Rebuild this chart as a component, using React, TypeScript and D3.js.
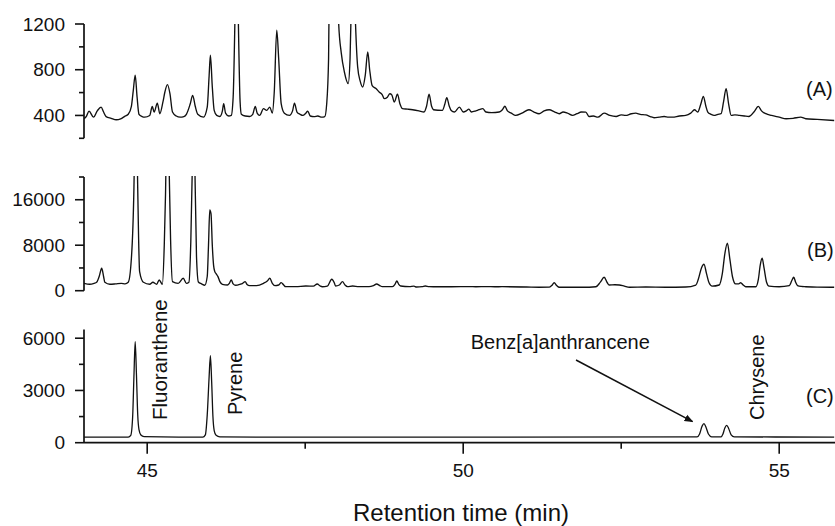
import React from "react";
import * as d3 from "d3";

// ---------- data (retention time in min, detector signal) ----------
const traceA: [number, number][] = [
  [44.0, 371], [44.04, 395], [44.08, 438], [44.15, 385], [44.21, 440], [44.27, 473], [44.31, 430], [44.35, 390],
  [44.43, 375], [44.51, 362], [44.58, 370], [44.64, 390], [44.7, 410], [44.75, 480], [44.78, 620], [44.81, 752],
  [44.84, 560], [44.87, 410], [44.92, 390], [44.96, 385], [45.04, 400], [45.08, 479], [45.11, 429], [45.16, 508],
  [45.2, 415], [45.25, 520], [45.28, 605], [45.32, 670], [45.36, 591], [45.4, 430], [45.46, 395], [45.52, 385],
  [45.58, 390], [45.62, 410], [45.68, 500], [45.72, 576], [45.76, 480], [45.8, 410], [45.89, 385], [45.95, 473],
  [45.98, 750], [46.0, 927], [46.03, 650], [46.06, 444], [46.1, 400], [46.15, 391], [46.19, 440], [46.21, 503],
  [46.24, 420], [46.29, 395], [46.33, 400], [46.36, 560], [46.39, 1300], [46.415, 2200], [46.44, 1300], [46.47, 520],
  [46.49, 410], [46.55, 395], [46.62, 391], [46.67, 410], [46.71, 479], [46.74, 420], [46.78, 400], [46.84, 459],
  [46.89, 444], [46.94, 473], [46.98, 420], [47.01, 600], [47.05, 1147], [47.08, 900], [47.12, 503], [47.17, 420],
  [47.25, 400], [47.3, 440], [47.33, 508], [47.37, 430], [47.42, 410], [47.46, 400], [47.51, 420], [47.54, 438],
  [47.58, 395], [47.64, 390], [47.7, 395], [47.76, 385], [47.81, 390], [47.84, 500], [47.87, 900], [47.9, 2500],
  [47.96, 2800], [48.0, 1700], [48.03, 1200], [48.07, 950], [48.12, 780], [48.18, 679], [48.21, 900], [48.23, 1400],
  [48.26, 1900], [48.29, 1300], [48.33, 825], [48.37, 700], [48.41, 649], [48.45, 750], [48.49, 956], [48.52, 800],
  [48.56, 660], [48.62, 635], [48.67, 605], [48.72, 580], [48.75, 547], [48.8, 560], [48.84, 590], [48.87, 580],
  [48.91, 517], [48.96, 585], [49.0, 500], [49.04, 459], [49.12, 455], [49.2, 450], [49.3, 440], [49.38, 430],
  [49.42, 480], [49.46, 585], [49.5, 480], [49.53, 450], [49.6, 445], [49.67, 444], [49.71, 500], [49.74, 556],
  [49.78, 480], [49.81, 444], [49.86, 430], [49.94, 473], [50.0, 430], [50.05, 440], [50.09, 455], [50.13, 430],
  [50.2, 440], [50.25, 450], [50.31, 459], [50.36, 430], [50.45, 425], [50.57, 430], [50.62, 450], [50.66, 480],
  [50.7, 440], [50.76, 420], [50.83, 400], [50.93, 420], [51.04, 450], [51.12, 430], [51.2, 415], [51.28, 440],
  [51.36, 450], [51.45, 430], [51.52, 415], [51.58, 430], [51.65, 420], [51.73, 400], [51.8, 415], [51.87, 430],
  [51.94, 429], [51.99, 391], [52.06, 395], [52.13, 385], [52.23, 420], [52.32, 400], [52.42, 391], [52.5, 405],
  [52.57, 400], [52.66, 415], [52.73, 420], [52.8, 410], [52.89, 405], [52.96, 390], [53.02, 380], [53.1, 385],
  [53.18, 391], [53.25, 385], [53.31, 385], [53.42, 395], [53.52, 400], [53.6, 420], [53.66, 450], [53.71, 430],
  [53.76, 500], [53.8, 567], [53.84, 480], [53.87, 429], [53.92, 410], [53.97, 400], [54.03, 410], [54.08, 415],
  [54.12, 520], [54.16, 635], [54.2, 500], [54.24, 400], [54.3, 405], [54.37, 400], [54.45, 395], [54.52, 391],
  [54.6, 430], [54.67, 479], [54.72, 440], [54.79, 415], [54.88, 400], [55.0, 385], [55.11, 371], [55.22, 375],
  [55.34, 385], [55.42, 371], [55.6, 365], [55.87, 356],
];

const traceB: [number, number][] = [
  [44.0, 1300], [44.09, 1130], [44.16, 1300], [44.2, 1480], [44.24, 2500], [44.28, 3950], [44.31, 2500], [44.33, 1480],
  [44.41, 1130], [44.5, 1200], [44.59, 1300], [44.65, 1200], [44.7, 1480], [44.75, 5700], [44.79, 18000], [44.82, 40000],
  [44.85, 18000], [44.88, 3350], [44.94, 1480], [45.04, 1130], [45.09, 1480], [45.15, 1130], [45.19, 1890], [45.24, 1130],
  [45.27, 8000], [45.29, 17000], [45.32, 40000], [45.35, 20000], [45.37, 9000], [45.4, 1600], [45.49, 1300], [45.57, 2190],
  [45.62, 1300], [45.66, 1500], [45.69, 8600], [45.72, 25000], [45.735, 35000], [45.75, 25000], [45.78, 6000], [45.81, 1530],
  [45.86, 1200], [45.91, 950], [45.95, 2500], [45.97, 8000], [45.99, 14200], [46.01, 13500], [46.03, 8000], [46.05, 4500],
  [46.07, 3350], [46.09, 3000], [46.12, 2470], [46.15, 1600], [46.19, 1130], [46.27, 1000], [46.3, 1300], [46.33, 1890],
  [46.36, 1200], [46.4, 950], [46.47, 1130], [46.51, 1300], [46.55, 1590], [46.58, 1100], [46.62, 900], [46.73, 900],
  [46.84, 1300], [46.9, 1700], [46.94, 2190], [46.98, 1300], [47.02, 900], [47.08, 1000], [47.12, 1410], [47.16, 1000],
  [47.19, 705], [47.35, 705], [47.51, 830], [47.63, 800], [47.69, 1180], [47.74, 800], [47.77, 700], [47.85, 800],
  [47.92, 2010], [47.96, 1400], [47.98, 830], [48.04, 1000], [48.09, 1590], [48.13, 1000], [48.17, 705], [48.25, 830],
  [48.35, 705], [48.51, 705], [48.58, 900], [48.63, 1180], [48.68, 900], [48.72, 705], [48.88, 705], [48.92, 1100],
  [48.95, 1710], [48.98, 1100], [49.01, 830], [49.15, 705], [49.22, 800], [49.26, 650], [49.35, 705], [49.4, 830],
  [49.46, 705], [49.6, 700], [49.75, 700], [49.96, 705], [50.1, 720], [50.2, 700], [50.37, 720], [50.5, 700],
  [50.62, 705], [51.0, 650], [51.2, 600], [51.36, 620], [51.4, 900], [51.44, 1400], [51.48, 900], [51.52, 600],
  [51.89, 600], [52.1, 700], [52.17, 1500], [52.23, 2360], [52.28, 1400], [52.31, 1000], [52.4, 1050], [52.47, 1005],
  [52.55, 800], [52.63, 600], [52.89, 650], [53.2, 600], [53.52, 650], [53.68, 1000], [53.72, 2000], [53.77, 4000],
  [53.81, 4660], [53.85, 3000], [53.89, 1400], [53.94, 800], [54.05, 1005], [54.1, 3000], [54.14, 6500], [54.18, 8360],
  [54.22, 5500], [54.26, 2500], [54.31, 1200], [54.36, 1200], [54.39, 1400], [54.43, 1000], [54.47, 700], [54.63, 700],
  [54.67, 2000], [54.7, 4500], [54.73, 5700], [54.76, 4000], [54.8, 1500], [54.84, 800], [55.0, 700], [55.16, 900],
  [55.2, 1800], [55.23, 2360], [55.26, 1500], [55.29, 900], [55.35, 750], [55.42, 700], [55.6, 620], [55.87, 600],
];

const traceC: [number, number][] = [
  [44.0, 320], [44.7, 320], [44.74, 420], [44.77, 1500], [44.79, 3800], [44.81, 5800], [44.83, 3900], [44.85, 1600],
  [44.87, 750], [44.9, 440], [44.95, 345], [45.5, 320], [45.88, 320], [45.92, 450], [45.95, 1600], [45.98, 3800],
  [46.0, 5000], [46.02, 3500], [46.04, 1500], [46.06, 700], [46.09, 430], [46.15, 340], [47.0, 320], [53.7, 330],
  [53.74, 500], [53.78, 950], [53.81, 1090], [53.84, 900], [53.88, 500], [53.93, 340], [54.08, 335], [54.11, 500],
  [54.14, 850], [54.17, 990], [54.2, 820], [54.24, 450], [54.29, 335], [55.87, 320],
];

const xMajorTicks = [45, 50, 55];
const xMinorTicks = [47.5, 52.5];
const aMajorTicks = [400, 800, 1200];
const aMinorTicks = [200, 600, 1000];
const bMajorTicks = [0, 8000, 16000];
const bMinorTicks = [4000, 12000, 20000];
const cMajorTicks = [0, 3000, 6000];
const cMinorTicks = [1500, 4500];
const panelLabels = ["(A)", "(B)", "(C)"];
const compoundLabels = ["Fluoranthene", "Pyrene", "Benz[a]anthrancene", "Chrysene"];
const axisTitle = "Retention time (min)";

// ---------- layout ----------
const W = 835;
const H = 526;
const FONT = "'Liberation Sans', Arial, Helvetica, sans-serif";
const INK = "#111";

const x = d3.scaleLinear().domain([44, 56]).range([84, 842.4]);
const yA = d3.scaleLinear().domain([200, 1200]).range([138.3, 24]);
const yB = d3.scaleLinear().domain([0, 20000]).range([290.7, 177]);
const yC = d3.scaleLinear().domain([0, 6500]).range([442.7, 329.5]);

function YAxis({ y, major, minor }: { y: d3.ScaleLinear<number, number>; major: number[]; minor: number[] }) {
  const [d0, d1] = y.domain();
  const x0 = x(44);
  return (
    <g>
      <line x1={x0} x2={x0} y1={y(d0)} y2={y(d1)} stroke={INK} strokeWidth={1.7} />
      {major.map((v) => (
        <g key={"M" + v}>
          <line x1={x0 - 9} x2={x0} y1={y(v)} y2={y(v)} stroke={INK} strokeWidth={1.6} />
          <text x={65} y={y(v)} dy="0.35em" textAnchor="end" fontSize={19} fontFamily={FONT} fill={INK}>
            {v}
          </text>
        </g>
      ))}
      {minor.map((v) => (
        <line key={"m" + v} x1={x0 - 5} x2={x0} y1={y(v)} y2={y(v)} stroke={INK} strokeWidth={1.6} />
      ))}
    </g>
  );
}

export default function App() {
  const mkLine = (y: d3.ScaleLinear<number, number>) =>
    d3
      .line<[number, number]>()
      .x((d) => x(d[0]))
      .y((d) => y(d[1]))
      .curve(d3.curveMonotoneX);

  const pathA = mkLine(yA)(traceA) || "";
  const pathB = mkLine(yB)(traceB) || "";
  const pathC = mkLine(yC)(traceC) || "";
  const axisY = yC(0);

  return (
    <div style={{ position: "absolute", left: 0, top: 0 }}>
      <svg width={W} height={H} style={{ display: "block", background: "#fff" }}>
        <defs>
          <clipPath id="clipA">
            <rect x={x(44)} y={yA(1200)} width={W} height={yA(200) - yA(1200) + 20} />
          </clipPath>
          <clipPath id="clipB">
            <rect x={x(44)} y={yB(20000) - 1} width={W} height={yB(0) - yB(20000) + 20} />
          </clipPath>
          <marker id="arrowhead" viewBox="0 0 10 10" refX="9" refY="5" markerWidth="9" markerHeight="9" orient="auto" markerUnits="userSpaceOnUse">
            <path d="M0,1 L10,5 L0,9 Z" fill={INK} />
          </marker>
        </defs>

        {/* traces */}
        <path d={pathA} fill="none" stroke={INK} strokeWidth={1.35} clipPath="url(#clipA)" strokeLinejoin="round" />
        <path d={pathB} fill="none" stroke={INK} strokeWidth={1.35} clipPath="url(#clipB)" strokeLinejoin="round" />
        <path d={pathC} fill="none" stroke={INK} strokeWidth={1.3} strokeLinejoin="round" />

        {/* y axes */}
        <YAxis y={yA} major={aMajorTicks} minor={aMinorTicks} />
        <YAxis y={yB} major={bMajorTicks} minor={bMinorTicks} />
        <YAxis y={yC} major={cMajorTicks} minor={cMinorTicks} />

        {/* x axis */}
        <line x1={x(44)} x2={W} y1={axisY} y2={axisY} stroke={INK} strokeWidth={1.7} />
        {xMajorTicks.map((t) => (
          <g key={"xt" + t}>
            <line x1={x(t)} x2={x(t)} y1={axisY} y2={axisY + 11} stroke={INK} strokeWidth={1.6} />
            <text x={x(t)} y={477} textAnchor="middle" fontSize={19} fontFamily={FONT} fill={INK}>
              {t}
            </text>
          </g>
        ))}
        {xMinorTicks.map((t) => (
          <line key={"xm" + t} x1={x(t)} x2={x(t)} y1={axisY} y2={axisY + 6} stroke={INK} strokeWidth={1.6} />
        ))}
        <text x={461} y={521} textAnchor="middle" fontSize={24} fontFamily={FONT} fill={INK}>
          {axisTitle}
        </text>

        {/* panel labels */}
        <text x={806} y={96} fontSize={20} fontFamily={FONT} fill={INK}>{panelLabels[0]}</text>
        <text x={807} y={257} fontSize={20} fontFamily={FONT} fill={INK}>{panelLabels[1]}</text>
        <text x={806} y={403} fontSize={20} fontFamily={FONT} fill={INK}>{panelLabels[2]}</text>

        {/* compound annotations */}
        <text transform={`translate(${x(45.32)},${yC(1300)}) rotate(-90)`} fontSize={20.5} fontFamily={FONT} fill={INK}>
          {compoundLabels[0]}
        </text>
        <text transform={`translate(${x(46.5)},${yC(1590)}) rotate(-90)`} fontSize={20} fontFamily={FONT} fill={INK}>
          {compoundLabels[1]}
        </text>
        <text x={x(50.12)} y={yC(5380)} fontSize={20} fontFamily={FONT} fill={INK}>
          {compoundLabels[2]}
        </text>
        <text transform={`translate(${x(54.755)},${yC(1303)}) rotate(-90)`} fontSize={20} fontFamily={FONT} fill={INK}>
          {compoundLabels[3]}
        </text>
        <line
          x1={x(51.785)}
          y1={yC(4750)}
          x2={x(53.63)}
          y2={yC(1206)}
          stroke={INK}
          strokeWidth={1.5}
          markerEnd="url(#arrowhead)"
        />
      </svg>
    </div>
  );
}
